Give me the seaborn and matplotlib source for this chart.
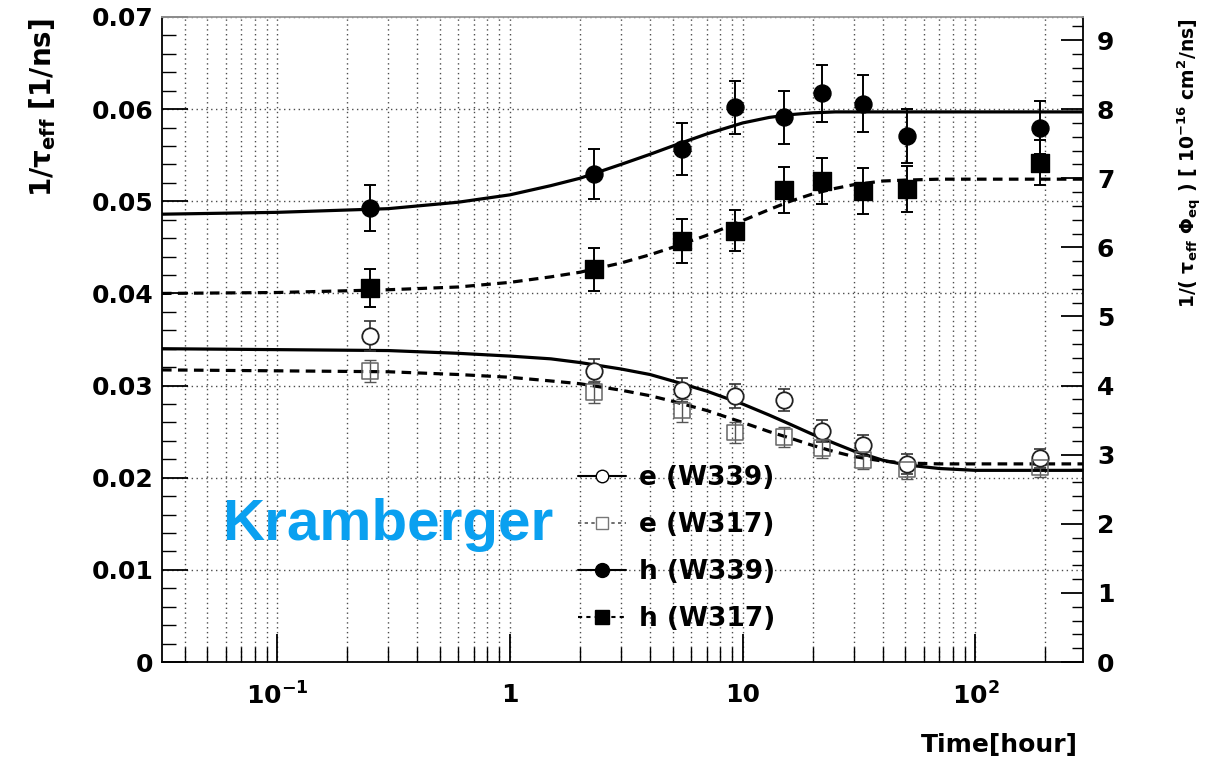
import numpy as np
import pandas as pd
import matplotlib
matplotlib.use("Agg")
import matplotlib.pyplot as plt
from matplotlib.lines import Line2D
from matplotlib.ticker import FixedLocator, FixedFormatter, MultipleLocator, LogLocator, NullFormatter
import seaborn as sns

# ---------------- data ----------------
times = [0.25, 2.3, 5.5, 9.3, 15, 22, 33, 51, 190]

e_w339 = [0.0354, 0.0316, 0.0295, 0.0289, 0.0284, 0.0251, 0.0235, 0.0215, 0.0221]
e_w339_err = [0.0016, 0.0013, 0.0013, 0.0013, 0.0012, 0.0012, 0.0011, 0.0011, 0.0010]

e_w317 = [0.0316, 0.0293, 0.0273, 0.0249, 0.0244, 0.0232, 0.0219, 0.0209, 0.0211]
e_w317_err = [0.0012, 0.0012, 0.0012, 0.0011, 0.0011, 0.0011, 0.0010, 0.0010, 0.0010]

h_w339 = [0.0493, 0.0530, 0.0557, 0.0602, 0.0591, 0.0617, 0.0606, 0.0571, 0.0580]
h_w339_err = [0.0025, 0.0027, 0.0028, 0.0029, 0.0029, 0.0031, 0.0031, 0.0029, 0.0029]

h_w317 = [0.0406, 0.0426, 0.0457, 0.0468, 0.0512, 0.0522, 0.0511, 0.0513, 0.0542]
h_w317_err = [0.0021, 0.0023, 0.0024, 0.0022, 0.0025, 0.0025, 0.0025, 0.0025, 0.0024]

# fitted curves
fit_t = [0.032, 0.1, 0.3, 0.6, 1, 1.5, 2, 3, 4, 5, 7, 10, 13, 16, 20, 25, 30, 40, 50, 70, 100, 290]
fit_h_w339 = [0.0486, 0.0488, 0.0492, 0.0499, 0.0507, 0.0517, 0.0525, 0.0540, 0.0551, 0.0560,
              0.0573, 0.0585, 0.0591, 0.0594, 0.0596, 0.0597, 0.0597, 0.0597, 0.0597, 0.0597,
              0.0597, 0.0597]
fit_h_w317 = [0.0400, 0.0401, 0.0404, 0.0407, 0.0412, 0.0418, 0.0423, 0.0433, 0.0442, 0.0450,
              0.0463, 0.0479, 0.0491, 0.0500, 0.0508, 0.0514, 0.0518, 0.0522, 0.0523, 0.0524,
              0.0524, 0.0524]
fit_e_w339 = [0.0340, 0.0339, 0.0338, 0.0335, 0.0332, 0.0329, 0.0325, 0.0318, 0.0312, 0.0305,
              0.0294, 0.0280, 0.0268, 0.0258, 0.0247, 0.0237, 0.0229, 0.0219, 0.0214, 0.0210,
              0.0208, 0.0208]
fit_e_w317 = [0.0317, 0.0316, 0.0315, 0.0312, 0.0309, 0.0305, 0.0302, 0.0295, 0.0289, 0.0283,
              0.0273, 0.0260, 0.0250, 0.0243, 0.0235, 0.0228, 0.0223, 0.0218, 0.0216, 0.0215,
              0.0215, 0.0215]

legend_labels = ["e (W339)", "e (W317)", "h (W339)", "h (W317)"]
x_tick_values = [0.1, 1, 10, 100]
x_tick_labels = [r"$\mathbf{10^{-1}}$", "1", "10", r"$\mathbf{10^{2}}$"]
y_ticks = [0, 0.01, 0.02, 0.03, 0.04, 0.05, 0.06, 0.07]
y_tick_labels = ["0", "0.01", "0.02", "0.03", "0.04", "0.05", "0.06", "0.07"]
right_ticks = [0, 1, 2, 3, 4, 5, 6, 7, 8, 9]
right_scale = 0.0075   # 1 unit of right axis in left-axis units

# ---------------- style ----------------
sns.set_theme(style="white")
plt.rcParams["font.family"] = ["DejaVu Sans"]
plt.rcParams["font.weight"] = "bold"
plt.rcParams["mathtext.fontset"] = "dejavusans"
plt.rcParams["mathtext.default"] = "bf"
for key in ["text.color", "axes.labelcolor", "xtick.color", "ytick.color", "axes.edgecolor"]:
    plt.rcParams[key] = "black"

fig = plt.figure(figsize=(12.09, 7.71), dpi=100)
ax = fig.add_axes([162 / 1209, 109 / 771, 921 / 1209, 645 / 771])
ax.set_xscale("log")
ax.set_xlim(0.032, 290)
ax.set_ylim(0, 0.07)

# grid
grid_ls = (0, (1, 2.5))
ax.grid(True, which="both", axis="x", color="black", linestyle=grid_ls, linewidth=1.0, alpha=0.7)
ax.grid(True, which="major", axis="y", color="black", linestyle=grid_ls, linewidth=1.0, alpha=0.7)
ax.set_axisbelow(True)

dash_ls = (0, (3, 2))
lw = 2.3

# fit curves
curves = pd.DataFrame({"t": fit_t, "hw339": fit_h_w339, "hw317": fit_h_w317,
                       "ew339": fit_e_w339, "ew317": fit_e_w317})
sns.lineplot(data=curves, x="t", y="hw339", ax=ax, color="black", linewidth=lw, zorder=3)
sns.lineplot(data=curves, x="t", y="hw317", ax=ax, color="black", linewidth=lw, linestyle=dash_ls, zorder=3)
sns.lineplot(data=curves, x="t", y="ew339", ax=ax, color="black", linewidth=lw, zorder=3)
sns.lineplot(data=curves, x="t", y="ew317", ax=ax, color="black", linewidth=lw, linestyle=dash_ls, zorder=3)

# error bars
ax.errorbar(times, h_w339, yerr=h_w339_err, fmt="none", ecolor="black", elinewidth=1.4, capsize=4.5, capthick=1.4, zorder=4)
ax.errorbar(times, h_w317, yerr=h_w317_err, fmt="none", ecolor="black", elinewidth=1.4, capsize=4.5, capthick=1.4, zorder=4)
ax.errorbar(times, e_w339, yerr=e_w339_err, fmt="none", ecolor="#333333", elinewidth=1.2, capsize=4.5, capthick=1.2, zorder=4)
ax.errorbar(times, e_w317, yerr=e_w317_err, fmt="none", ecolor="#555555", elinewidth=1.0, capsize=4.5, capthick=1.0, zorder=4)

# markers
pts = pd.DataFrame({"t": times, "ew339": e_w339, "ew317": e_w317, "hw339": h_w339, "hw317": h_w317})
sns.scatterplot(data=pts, x="t", y="hw339", ax=ax, marker="o", s=150, color="black", edgecolor="black", zorder=5)
sns.scatterplot(data=pts, x="t", y="hw317", ax=ax, marker="s", s=150, color="black", edgecolor="black", zorder=5)
sns.scatterplot(data=pts, x="t", y="ew339", ax=ax, marker="o", s=140, facecolor="white", edgecolor="#222222", linewidth=1.3, zorder=5)
sns.scatterplot(data=pts, x="t", y="ew317", ax=ax, marker="s", s=130, facecolor="none", edgecolor="#666666", linewidth=1.1, zorder=5)

ax.set_xlabel("")
ax.set_ylabel("")

# ticks
ax.xaxis.set_major_locator(FixedLocator(x_tick_values))
ax.xaxis.set_major_formatter(FixedFormatter(x_tick_labels))
ax.xaxis.set_minor_locator(LogLocator(base=10, subs=np.arange(2, 10)))
ax.xaxis.set_minor_formatter(NullFormatter())
ax.yaxis.set_major_locator(FixedLocator(y_ticks))
ax.yaxis.set_major_formatter(FixedFormatter(y_tick_labels))
ax.yaxis.set_minor_locator(MultipleLocator(0.002))
ax.tick_params(axis="x", which="major", direction="in", length=20, width=1.3, labelsize=18, pad=15,
               top=False, bottom=True)
ax.tick_params(axis="x", which="minor", direction="in", length=11, width=1.0, top=False, bottom=True)
ax.tick_params(axis="y", which="major", direction="in", length=19, width=1.3, labelsize=18, pad=6,
               left=True, right=False)
ax.tick_params(axis="y", which="minor", direction="in", length=10, width=1.0, left=True, right=False)
for lab in ax.get_xticklabels() + ax.get_yticklabels():
    lab.set_fontweight("bold")

for sp in ax.spines.values():
    sp.set_color("black")
    sp.set_linewidth(1.3)
ax.spines["top"].set_color("#999999")

# right axis
ax2 = ax.twinx()
ax2.set_ylim(0, 0.07 / right_scale)
ax2.yaxis.set_major_locator(FixedLocator(right_ticks))
ax2.yaxis.set_minor_locator(MultipleLocator(0.2))
ax2.tick_params(axis="y", which="major", direction="in", length=16, width=1.3, labelsize=18, pad=10)
ax2.tick_params(axis="y", which="minor", direction="in", length=8, width=1.0)
for lab in ax2.get_yticklabels():
    lab.set_fontweight("bold")
ax2.grid(False)
for sp in ax2.spines.values():
    sp.set_visible(False)

# axis titles
fig.text(43 / 1209, 1 - 18 / 771, r"1/$\tau_{\mathrm{eff}}$ [1/ns]", rotation=90, ha="center", va="top",
         fontsize=20, fontweight="bold")
fig.text(1190 / 1209, 1 - 18 / 771, r"1/( $\tau_{\mathrm{eff}}$ $\Phi_{\mathrm{eq}}$ ) [ $10^{-16}$ cm$^{2}$/ns]",
         rotation=90, ha="center", va="top", fontsize=13.5, fontweight="bold")
fig.text(1078 / 1209, 1 - 745 / 771, "Time[hour]", ha="right", va="center", fontsize=18, fontweight="bold")

# annotation
ax.text(222 / 1209, 1 - 525 / 771, "Kramberger", transform=fig.transFigure, ha="left", va="center",
        fontsize=42, fontweight="bold", color="#0aa0f0", family="Liberation Sans", zorder=6)

# legend
handles = [
    Line2D([], [], color="black", linewidth=1.5, marker="o", markersize=9, markerfacecolor="white",
           markeredgecolor="black"),
    Line2D([], [], color="#555555", linewidth=1.2, linestyle=(0, (2, 2)), marker="s", markersize=8,
           markerfacecolor="white", markeredgecolor="#777777"),
    Line2D([], [], color="black", linewidth=1.5, marker="o", markersize=10, markerfacecolor="black"),
    Line2D([], [], color="black", linewidth=1.5, linestyle=(0, (2, 2)), marker="s", markersize=10,
           markerfacecolor="black"),
]
leg = ax.legend(handles, legend_labels, loc="upper left", bbox_to_anchor=(578 / 1209, 1 - 465 / 771),
                bbox_transform=fig.transFigure, frameon=False, fontsize=19, handlelength=1.8,
                handletextpad=0.5, labelspacing=0.8, borderpad=0, borderaxespad=0)
for t in leg.get_texts():
    t.set_fontweight("bold")
    t.set_color("black")
leg.set_zorder(7)

fig.savefig("out.png", dpi=100)
